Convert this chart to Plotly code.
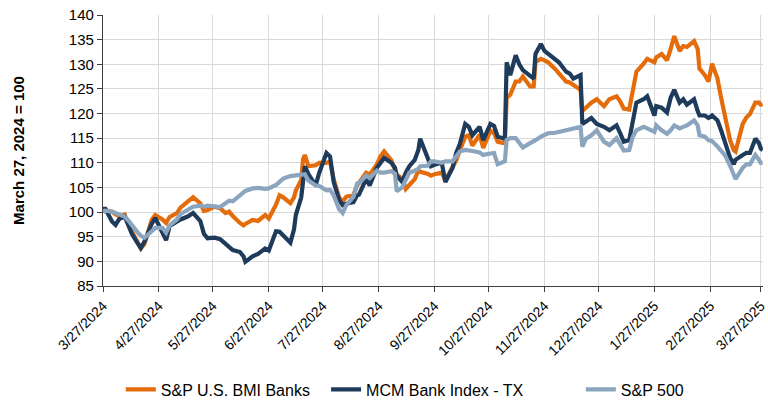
import plotly.graph_objects as go

dates = [
    "2024-03-27", "2024-03-28", "2024-04-01", "2024-04-03", "2024-04-05", "2024-04-08", "2024-04-10",
    "2024-04-12", "2024-04-15", "2024-04-17", "2024-04-19", "2024-04-23", "2024-04-25", "2024-04-29",
    "2024-05-01", "2024-05-03", "2024-05-07", "2024-05-09", "2024-05-13", "2024-05-16", "2024-05-20",
    "2024-05-22", "2024-05-24", "2024-05-28", "2024-05-31", "2024-06-03", "2024-06-05", "2024-06-07",
    "2024-06-11", "2024-06-13", "2024-06-14", "2024-06-18", "2024-06-21", "2024-06-25", "2024-06-27",
    "2024-07-01", "2024-07-03", "2024-07-05", "2024-07-09", "2024-07-11", "2024-07-12", "2024-07-15",
    "2024-07-16", "2024-07-17", "2024-07-19", "2024-07-23", "2024-07-25", "2024-07-29", "2024-07-31",
    "2024-08-02", "2024-08-05", "2024-08-07", "2024-08-09", "2024-08-13", "2024-08-15", "2024-08-16",
    "2024-08-20", "2024-08-22", "2024-08-26", "2024-08-28", "2024-08-30", "2024-09-03", "2024-09-05",
    "2024-09-06", "2024-09-09", "2024-09-11", "2024-09-13", "2024-09-16", "2024-09-18", "2024-09-19",
    "2024-09-23", "2024-09-25", "2024-09-27", "2024-10-01", "2024-10-03", "2024-10-07", "2024-10-09",
    "2024-10-11", "2024-10-14", "2024-10-16", "2024-10-18", "2024-10-22", "2024-10-24", "2024-10-28",
    "2024-10-30", "2024-11-01", "2024-11-04", "2024-11-05", "2024-11-06", "2024-11-08", "2024-11-11",
    "2024-11-13", "2024-11-15", "2024-11-19", "2024-11-21", "2024-11-22", "2024-11-25", "2024-11-27",
    "2024-11-29", "2024-12-03", "2024-12-05", "2024-12-09", "2024-12-11", "2024-12-13", "2024-12-17",
    "2024-12-18", "2024-12-20", "2024-12-23", "2024-12-26", "2024-12-30", "2025-01-02", "2025-01-06",
    "2025-01-08", "2025-01-10", "2025-01-13", "2025-01-15", "2025-01-17", "2025-01-21", "2025-01-23",
    "2025-01-27", "2025-01-28", "2025-01-31", "2025-02-03", "2025-02-05", "2025-02-07", "2025-02-10",
    "2025-02-12", "2025-02-14", "2025-02-18", "2025-02-20", "2025-02-21", "2025-02-24", "2025-02-26",
    "2025-02-28", "2025-03-03", "2025-03-05", "2025-03-07", "2025-03-10", "2025-03-12", "2025-03-13",
    "2025-03-17", "2025-03-19", "2025-03-21", "2025-03-24", "2025-03-26", "2025-03-27", "2025-03-28",
]

bmi_banks = [
    100.0, 100.4, 100.1, 99.5, 99.2, 99.5, 97.5,
    96.0, 94.0, 92.6, 93.5, 98.4, 99.4, 98.5,
    97.8, 99.0, 99.8, 100.9, 102.1, 103.0, 101.8,
    100.2, 100.4, 101.1, 100.8, 99.8, 100.1, 99.2,
    97.8, 97.3, 97.6, 98.4, 98.2, 99.4, 98.7,
    101.5, 103.4, 103.0, 101.8, 103.0, 104.4, 106.5,
    110.7, 111.6, 109.3, 109.5, 110.0, 110.0, 110.3,
    106.7, 103.0, 102.2, 103.1, 103.5, 105.4, 106.0,
    108.0, 107.6, 109.7, 111.3, 112.3, 110.5, 108.4,
    107.6, 106.8, 104.7, 105.5, 106.7, 108.4, 108.2,
    107.8, 107.4, 107.7, 108.0, 106.4, 109.3, 110.5,
    112.5, 115.3, 115.6, 113.5, 115.7, 113.0, 116.5,
    116.0, 114.3, 114.0, 114.2, 123.2, 123.8, 126.5,
    126.5, 127.5, 125.5, 125.5, 130.4, 131.1, 130.8,
    130.4, 129.0, 128.1, 126.5, 126.3, 125.8, 124.8,
    120.5, 121.2, 122.2, 122.9, 121.5, 122.9, 123.5,
    122.5, 121.0, 120.8, 125.2, 128.5, 130.1, 131.1,
    130.4, 131.4, 132.1, 130.8, 133.1, 135.7, 132.7,
    133.7, 133.5, 134.7, 133.1, 129.1, 127.8, 126.5,
    130.1, 127.1, 123.2, 119.9, 114.6, 112.6, 112.3,
    117.9, 119.2, 119.9, 122.2, 122.2, 121.8, 121.9,
]

mcm_tx = [
    100.0, 100.9, 98.1, 97.4, 98.6, 99.1, 97.4,
    95.6, 93.8, 92.7, 94.0, 97.6, 98.8, 96.0,
    94.3, 97.2, 98.2, 98.5, 99.1, 99.8, 98.2,
    95.6, 94.7, 94.8, 94.5, 93.5, 93.0, 92.3,
    91.9, 91.0, 89.9, 91.0, 91.5, 92.6, 92.2,
    96.1, 96.0, 95.3, 93.8, 96.5, 99.4, 103.0,
    106.1, 109.3, 107.7, 105.4, 108.0, 112.0, 111.3,
    106.1, 102.5, 101.4, 101.7, 102.0, 103.4, 103.5,
    106.7, 105.4, 109.0, 110.0, 111.0, 110.0, 109.0,
    107.4, 106.1, 108.0, 109.3, 110.6, 112.6, 114.9,
    111.3, 109.3, 109.6, 110.0, 106.1, 109.0, 112.0,
    113.8, 117.9, 117.3, 115.6, 117.3, 114.6, 117.9,
    117.5, 115.3, 115.0, 115.0, 130.4, 127.8, 131.8,
    130.0, 128.8, 127.5, 127.1, 132.1, 134.1, 132.7,
    132.1, 131.0, 130.4, 128.5, 128.1, 127.1, 127.8,
    117.9, 118.4, 119.1, 117.9, 117.3, 116.6, 117.6,
    116.0, 114.3, 114.6, 118.6, 122.2, 122.9, 123.5,
    119.6, 121.5, 121.2, 120.2, 123.2, 124.8, 122.2,
    122.9, 121.8, 122.9, 120.5, 119.6, 119.6, 119.1,
    119.6, 118.6, 116.6, 114.6, 111.0, 109.7, 110.6,
    111.6, 112.0, 112.0, 114.9, 114.0, 112.9, 112.6,
]

sp500 = [
    100.0, 100.3, 100.1, 99.8, 99.4, 99.1, 98.3,
    97.3, 96.0, 95.2, 94.8, 96.1, 96.8, 96.8,
    95.8, 97.3, 98.5, 99.6, 100.4, 101.1, 101.3,
    101.1, 101.3, 101.1, 101.0, 101.8, 102.3, 102.2,
    103.3, 104.0, 104.3, 104.8, 104.9, 104.7, 104.8,
    105.5, 106.1, 106.8, 107.3, 107.4, 107.6, 107.7,
    107.6, 107.7, 106.4, 105.4, 105.3, 104.4, 104.5,
    103.4, 100.6, 99.8, 101.4, 103.1, 105.8, 105.8,
    107.4, 106.9, 108.4, 108.0, 108.0, 108.3, 107.8,
    104.2, 105.0, 106.7, 108.0, 108.4, 108.8, 109.3,
    109.4, 110.3, 110.3, 110.0, 110.3, 110.3, 111.2,
    112.3, 112.6, 112.6, 112.4, 112.1, 111.6, 111.9,
    112.0, 109.7, 110.0, 110.3, 114.6, 115.0, 115.0,
    114.2, 113.1, 114.0, 114.3, 114.6, 115.3, 115.6,
    116.0, 116.1, 116.3, 116.7, 116.7, 117.0, 117.3,
    113.3, 114.9, 115.6, 116.6, 114.3, 113.6, 115.0,
    113.8, 112.5, 112.6, 115.3, 116.6, 117.3, 117.0,
    116.3, 117.6, 116.6, 115.9, 116.6, 117.6, 117.0,
    117.3, 117.6, 118.6, 117.6, 115.6, 115.3, 114.6,
    114.4, 113.3, 112.3, 111.6, 109.4, 107.4, 106.7,
    109.0, 109.7, 109.7, 111.6, 110.6, 110.0, 110.0,
]

series_names = ["S&P U.S. BMI Banks", "MCM Bank Index - TX", "S&P 500"]
series_colors = ["#E46C0A", "#1F3B5C", "#8CA5BF"]

tick_dates = [
    "2024-03-27", "2024-04-27", "2024-05-27", "2024-06-27", "2024-07-27", "2024-08-27", "2024-09-27",
    "2024-10-27", "2024-11-27", "2024-12-27", "2025-01-27", "2025-02-27", "2025-03-27",
]
tick_labels = [
    "3/27/2024", "4/27/2024", "5/27/2024", "6/27/2024", "7/27/2024", "8/27/2024", "9/27/2024",
    "10/27/2024", "11/27/2024", "12/27/2024", "1/27/2025", "2/27/2025", "3/27/2025",
]
y_ticks = [85, 90, 95, 100, 105, 110, 115, 120, 125, 130, 135, 140]
y_title = "March 27, 2024 = 100"

FONT = "Arial, 'Liberation Sans', sans-serif"

fig = go.Figure()
legend_ids = ["legend", "legend2", "legend3"]
for name, vals, color, lg in zip(series_names, [bmi_banks, mcm_tx, sp500], series_colors, legend_ids):
    fig.add_trace(go.Scatter(
        x=dates, y=vals, mode="lines", name=name,
        line=dict(color=color, width=4.2),
        legend=lg,
    ))

legend_common = dict(
    orientation="h", yanchor="middle", y=-0.382, xanchor="left",
    font=dict(family=FONT, size=16, color="#000000"),
    bgcolor="rgba(0,0,0,0)", borderwidth=0,
    itemwidth=30,
)

fig.update_layout(
    width=768, height=412,
    margin=dict(l=103, r=5, t=15, b=117),
    paper_bgcolor="white", plot_bgcolor="white",
    font=dict(family=FONT, size=15, color="#000000"),
    showlegend=True,
    legend=dict(x=0.027, **legend_common),
    legend2=dict(x=0.338, **legend_common),
    legend3=dict(x=0.724, **legend_common),
    xaxis=dict(
        type="date",
        range=["2024-03-27", "2025-03-28 06:00"],
        tickmode="array", tickvals=tick_dates, ticktext=tick_labels,
        tickangle=-45,
        tickfont=dict(family=FONT, size=14, color="#000000"),
        ticklabeloverflow="allow",
        showgrid=True, gridcolor="#D9D9D9", gridwidth=1,
        showline=True, linecolor="#404040", linewidth=1.3,
        ticks="outside", ticklen=5, tickcolor="#404040",
        zeroline=False,
        automargin=False,
    ),
    yaxis=dict(
        range=[85, 140],
        tickmode="array", tickvals=y_ticks,
        tickfont=dict(family=FONT, size=15, color="#000000"),
        showgrid=True, gridcolor="#D9D9D9", gridwidth=1,
        showline=True, linecolor="#404040", linewidth=1.3,
        ticks="outside", ticklen=5, tickcolor="#404040",
        zeroline=False,
        title=dict(text="<b>" + y_title + "</b>", font=dict(family=FONT, size=15, color="#000000"), standoff=40),
        automargin=False,
    ),
)

fig.write_html("out.html", config={"displayModeBar": False},
               post_script="document.body.style.margin='0px';")
